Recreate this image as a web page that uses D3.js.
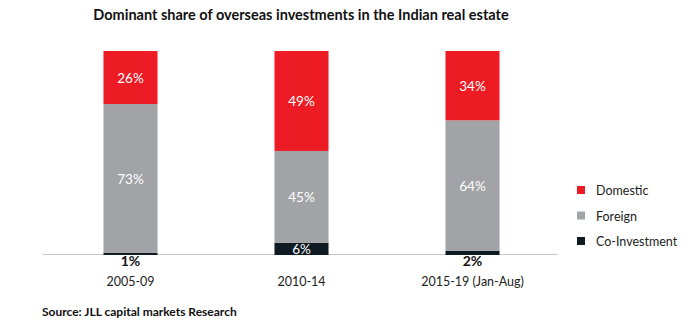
<!DOCTYPE html>
<html>
<head>
<meta charset="utf-8">
<script src="https://cdn.jsdelivr.net/npm/d3@7"></script>
<style>
  body { margin: 0; background: #fff; }
  svg { font-family: Lato, "Noto Sans", sans-serif; display: block; }
</style>
</head>
<body>
<div id="chart"></div>
<script>
// periods and shares (%) per investor type
const periods = ["2005-09", "2010-14", "2015-19 (Jan-Aug)"];
const domestic = [26, 49, 34];
const foreign = [73, 45, 64];
const coInvestment = [1, 6, 2];

const seriesNames = ["Co-Investment", "Foreign", "Domestic"];
const colors = { "Domestic": "#ed1c24", "Foreign": "#a1a3a6", "Co-Investment": "#0f1a22" };
const legendOrder = ["Domestic", "Foreign", "Co-Investment"];

const width = 700, height = 325;
const margin = { left: 45, right: 142, top: 51, bottom: 70 };

const rows = periods.map((p, i) => ({
  period: p,
  "Domestic": domestic[i],
  "Foreign": foreign[i],
  "Co-Investment": coInvestment[i]
}));

const svg = d3.select("#chart").append("svg")
  .attr("width", width)
  .attr("height", height);

const x = d3.scaleBand()
  .domain(periods)
  .range([margin.left, width - margin.right])
  .paddingInner(0.684)
  .paddingOuter(0.342);

const y = d3.scaleLinear()
  .domain([0, 100])
  .range([height - margin.bottom, margin.top]);

const stack = d3.stack().keys(seriesNames);
const layers = stack(rows);

// baseline
svg.append("line")
  .attr("x1", 43).attr("x2", 558)
  .attr("y1", y(0) - 0.5).attr("y2", y(0) - 0.5)
  .attr("stroke", "#c8c8c8")
  .attr("stroke-width", 1);

const groups = svg.selectAll("g.layer")
  .data(layers)
  .join("g")
  .attr("class", "layer")
  .attr("fill", d => colors[d.key]);

groups.selectAll("rect")
  .data(d => d)
  .join("rect")
  .attr("x", d => x(d.data.period))
  .attr("width", x.bandwidth())
  .attr("y", d => y(d[1]))
  .attr("height", d => y(d[0]) - y(d[1]));

// value labels; slivers too thin to hold text get theirs under the bar
const small = d => d[1] - d[0] < 4;
groups.each(function(layer) {
  d3.select(this).selectAll("text")
    .data(layer)
    .join("text")
    .attr("x", d => x(d.data.period) + x.bandwidth() / 2)
    .attr("y", d => small(d) ? y(0) + 11 : (y(d[0]) + y(d[1])) / 2 + 5)
    .attr("text-anchor", "middle")
    .attr("font-size", d => small(d) ? 14 : 13.5)
    .attr("font-weight", d => small(d) ? "bold" : "normal")
    .attr("fill", d => small(d) ? "#111" : "#fff")
    .text(d => (d[1] - d[0]) + "%");
});

// category axis
const xAxis = d3.axisBottom(x).tickSize(0).tickPadding(0);
const gx = svg.append("g")
  .attr("transform", `translate(0, ${y(0) + 22})`)
  .call(xAxis);
gx.select(".domain").remove();
gx.selectAll("text")
  .attr("font-family", "Lato, 'Noto Sans', sans-serif")
  .attr("font-size", 12.5)
  .attr("fill", "#222")
  .attr("dy", "0.71em");

// legend
const legend = svg.append("g")
  .attr("transform", "translate(577, 186)");
const items = legend.selectAll("g")
  .data(legendOrder)
  .join("g")
  .attr("transform", (d, i) => `translate(0, ${i * 25.5})`);
items.append("rect")
  .attr("width", 8).attr("height", 8)
  .attr("fill", d => colors[d]);
items.append("text")
  .attr("x", 19).attr("y", 9)
  .attr("font-size", 12.5)
  .attr("fill", "#222")
  .text(d => d);

// title and source
svg.append("text")
  .attr("x", 301).attr("y", 20)
  .attr("text-anchor", "middle")
  .attr("font-size", 14.5)
  .attr("font-weight", "bold")
  .attr("fill", "#111")
  .text("Dominant share of overseas investments in the Indian real estate");

svg.append("text")
  .attr("x", 42).attr("y", 316)
  .attr("font-size", 12)
  .attr("font-weight", "bold")
  .attr("fill", "#111")
  .text("Source: JLL capital markets Research");
</script>
</body>
</html>
